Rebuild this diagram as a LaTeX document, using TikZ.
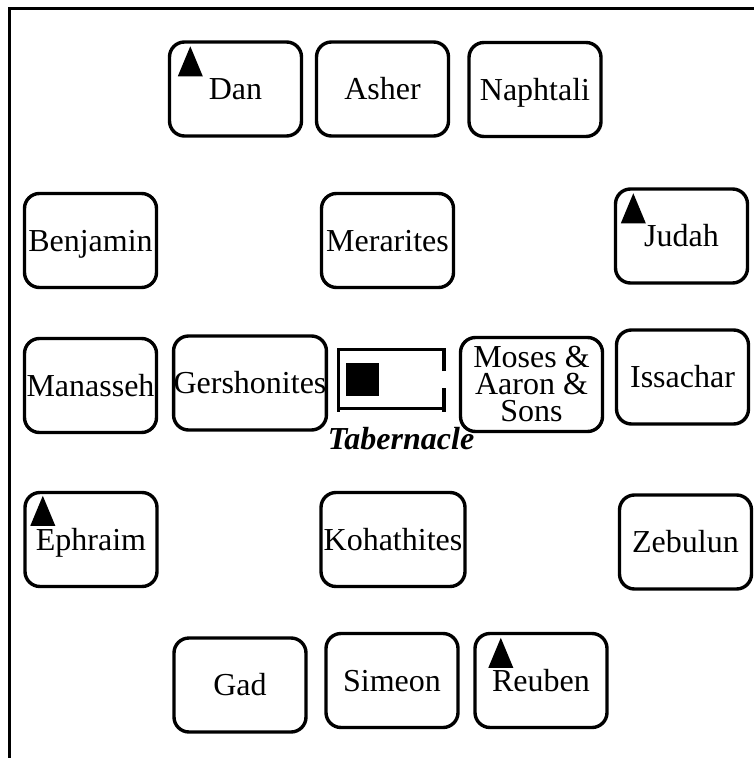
\documentclass[tikz,border=0pt]{standalone}
\usepackage{fontspec}
\setmainfont{Liberation Serif}
\begin{document}
\begin{tikzpicture}[x=.5pt,y=-.5pt,
    tribe/.style={draw,line width=1.7pt,rounded corners=7.5pt,
        minimum width=66pt,minimum height=47pt,inner sep=0pt,
        text height=10.6pt,text depth=0pt,
        font=\fontsize{16}{13.5}\selectfont},
    wall/.style={line width=1.7pt},
    ]
    \useasboundingbox (0,0) rectangle (754,758);
    \draw[line width=1.9pt] (9.5,758)--(9.5,8.5)--(754,8.5);
    \path
    (235.5,89) node[tribe] (dan) {Dan} % <<< hàng 1
    (382.5,89) node[tribe] (asher) {Asher}
    (535,89.5) node[tribe] (naphtali) {Naphtali}
    (90.5,240.5) node[tribe] (benjamin) {Benjamin} % <<< hàng 2
    (387.5,240.5) node[tribe] (merarites) {Merarites}
    (681.5,236) node[tribe] (judah) {Judah}
    (90.5,385.5) node[tribe] (manasseh) {Manasseh} % <<< hàng 3
    (250,383) node[tribe,minimum width=76pt] (gershonites) {Gershonites}
    (531.5,380.5) node[tribe,minimum width=71pt,text height=,text depth=,
        align=center,yshift=-2pt] (moses) {Moses \&\\Aaron \&\\Sons}
    (682.5,377) node[tribe] (issachar) {Issachar}
    (91,539.5) node[tribe] (ephraim) {Ephraim} % <<< hàng 4
    (393,539.5) node[tribe,minimum width=72pt] (kohathites) {Kohathites}
    (685.5,542) node[tribe] (zebulun) {Zebulun}
    (240,685) node[tribe] (gad) {Gad} % <<< hàng 5
    (392,680.5) node[tribe] (simeon) {Simeon}
    (541,680.5) node[tribe] (reuben) {Reuben};
    % cờ
    \fill ([xshift=5pt,yshift=-18pt]dan.north west)--++(12.5pt,0)--++(-6.25pt,15pt)--cycle;
    \fill ([xshift=3.5pt,yshift=-18pt]judah.north west)--++(12.5pt,0)--++(-6.25pt,15pt)--cycle;
    \fill ([xshift=3.5pt,yshift=-17.5pt]ephraim.north west)--++(12.5pt,0)--++(-6.25pt,15pt)--cycle;
    \fill ([xshift=7.5pt,yshift=-18pt]reuben.north west)--++(12.5pt,0)--++(-6.25pt,15pt)--cycle;
    % đền tạm
    \draw[wall] (444,371)--(444,349.5)--(338.5,349.5)--(338.5,411.5);
    \draw[wall] (444,388)--(444,411.5);
    \draw[wall] (338.5,408.5)--(444,408.5);
    \fill (346,363) rectangle (379,396);
    \path (401,439) node[font=\fontsize{16}{13.5}\selectfont\bfseries\itshape] (tabernacle) {Tabernacle};
\end{tikzpicture}
\end{document}
